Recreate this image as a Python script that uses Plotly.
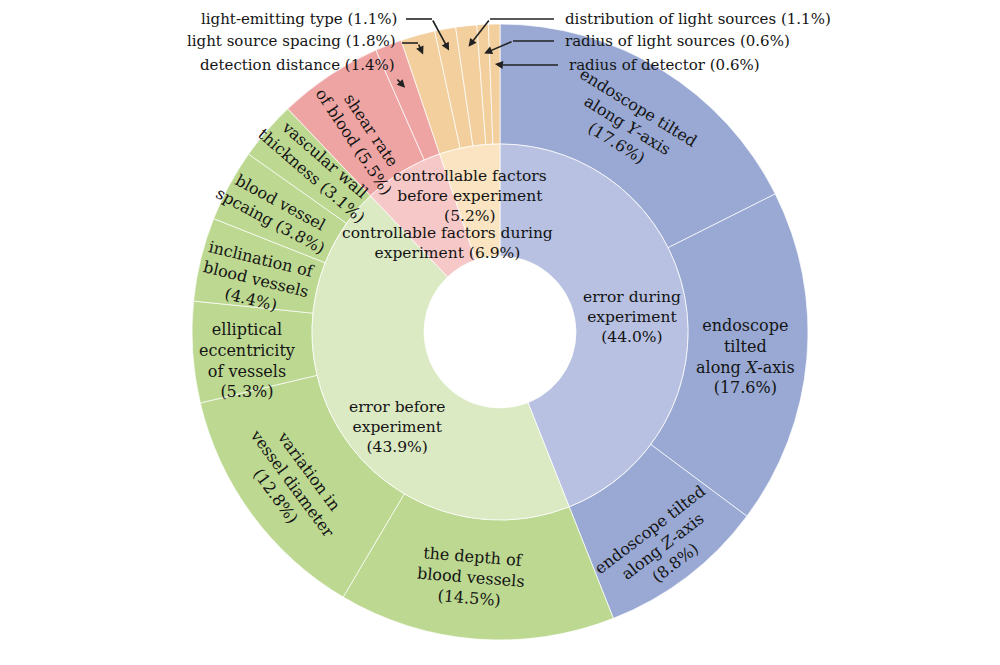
import numpy as np
import plotly.graph_objects as go

# inner ring: main groups
groups = ['error during experiment', 'error before experiment',
          'controllable factors during experiment', 'controllable factors before experiment']
group_values = [44.0, 43.9, 6.9, 5.2]
group_text = ['error during<br>experiment<br>({:.1f}%)',
              'error before<br>experiment<br>({:.1f}%)',
              'controllable factors during<br>experiment ({:.1f}%)',
              'controllable factors<br>before experiment<br>({:.1f}%)']

# outer ring: individual factors (same clockwise order)
factors = ['endoscope tilted along Y-axis', 'endoscope tilted along X-axis', 'endoscope tilted along Z-axis',
           'the depth of blood vessels', 'variation in vessel diameter', 'elliptical eccentricity of vessels',
           'inclination of blood vessels', 'blood vessel spcaing', 'vascular wall thickness',
           'shear rate of blood', 'detection distance', 'light source spacing', 'light-emitting type',
           'distribution of light sources', 'radius of light sources', 'radius of detector']
factor_values = [17.6, 17.6, 8.8, 14.5, 12.8, 5.3, 4.4, 3.8, 3.1, 5.5, 1.4, 1.8, 1.1, 1.1, 0.6, 0.6]
factor_group = [0, 0, 0, 1, 1, 1, 1, 1, 1, 2, 2, 3, 3, 3, 3, 3]
factor_text = ['endoscope tilted<br>along <i>Y</i>-axis<br>({:.1f}%)',
               'endoscope<br>tilted<br>along <i>X</i>-axis<br>({:.1f}%)',
               'endoscope tilted<br>along <i>Z</i>-axis<br>({:.1f}%)',
               'the depth of<br>blood vessels<br>({:.1f}%)',
               'variation in<br>vessel diameter<br>({:.1f}%)',
               'elliptical<br>eccentricity<br>of vessels<br>({:.1f}%)',
               'inclination of<br>blood vessels<br>({:.1f}%)',
               'blood vessel<br>spcaing ({:.1f}%)',
               'vascular wall<br>thickness ({:.1f}%)',
               'shear rate<br>of blood ({:.1f}%)',
               None, None, None, None, None, None]
# how the in-slice text is turned, and small shifts (px)
factor_orient = ['tan', 'hor', 'tan', 'tan', 'tan', 'hor', 'rad', 'rad', 'rad', 'rad',
                 None, None, None, None, None, None]
factor_nudge = [(-3, 5), (-2, 3), (12, 18), (-10, -2), (-8, 4), (-6, 12), (-3, 6), (-6, -2), (6, -2), (0, 10),
                None, None, None, None, None, None]

inner_colors = ['#B8C1E1', '#DCEAC4', '#F6C9C8', '#FBE4C1']
outer_colors = ['#99A9D3', '#BCD891', '#EDA4A3', '#F2CF9D']

W, H = 1000, 665
OFF = 8          # page body margin shifts the figure by this much
cx, cy = 500, 332
R_out, R_mid, R_hole = 308, 188, 76
FONT = 'DejaVu Serif'
FS = 16
TXT = '#141414'


def paper(px, py):
    return (px - OFF) / W, 1 - (py - OFF) / H


def mid_angles(vals):
    v = np.array(vals)
    start = np.cumsum(v) - v
    return (start + v / 2) / v.sum() * 360


def polar(r, theta):
    t = np.radians(theta)
    return cx + r * np.sin(t), cy - r * np.cos(t)


def domain(r):
    x0, y0 = paper(cx - r, cy + r)
    x1, y1 = paper(cx + r, cy - r)
    return dict(x=[x0, x1], y=[y0, y1])


fig = go.Figure()
fig.add_trace(go.Pie(
    values=factor_values, labels=factors, sort=False, direction='clockwise', rotation=0,
    hole=R_mid / R_out, textinfo='none', hoverinfo='label+value', showlegend=False,
    marker=dict(colors=[outer_colors[g] for g in factor_group],
                line=dict(color='rgba(255,255,255,0.7)', width=1)),
    domain=domain(R_out)))
fig.add_trace(go.Pie(
    values=group_values, labels=groups, sort=False, direction='clockwise', rotation=0,
    hole=R_hole / R_mid, textinfo='none', hoverinfo='label+value', showlegend=False,
    marker=dict(colors=inner_colors, line=dict(color='rgba(255,255,255,0.7)', width=1)),
    domain=domain(R_mid)))

annotations = []
shapes = []

# outer ring labels
for txt, v, th, o, nd in zip(factor_text, factor_values, mid_angles(factor_values), factor_orient, factor_nudge):
    if txt is None:
        continue
    px, py = polar((R_out + R_mid) / 2, th)
    if o == 'tan':
        ang = th
    elif o == 'rad':
        ang = th - 90
    else:
        ang = 0
    ang = (ang + 90) % 180 - 90
    x, y = paper(px + nd[0], py + nd[1])
    annotations.append(dict(x=x, y=y, xref='paper', yref='paper', xanchor='center', yanchor='middle',
                            text=txt.format(v), showarrow=False, textangle=ang,
                            font=dict(family=FONT, size=FS, color=TXT)))

# inner ring labels (nudged in px where the slice is narrow)
inner_nudge = [(2, 10), (8, 24), (16, 24), (-9, -6)]
for txt, v, th, (dx, dy) in zip(group_text, group_values, mid_angles(group_values), inner_nudge):
    px, py = polar((R_mid + R_hole) / 2, th)
    x, y = paper(px + dx, py + dy)
    annotations.append(dict(x=x, y=y, xref='paper', yref='paper', xanchor='center', yanchor='middle',
                            text=txt.format(v), showarrow=False,
                            font=dict(family=FONT, size=15.5, color=TXT)))

# small slices: labels outside with elbow arrows
small = list(range(10, 16))
small_label = [(397, 65, 'right'), (398, 41, 'right'), (399, 19, 'right'),
               (563, 19, 'left'), (563, 41, 'left'), (567, 65, 'left')]
small_start = [None, (402, 43), (406, 19), (554, 19), (554, 41), (558, 65)]
small_elbow = [(396, 78), (418, 43), (432, 19), (490, 19), (513, 41), (503, 65)]
arrow_r = [262, 288, 286, 287, 279, 268]
ths = mid_angles(factor_values)
for i, (lx, ly, anc), st, el, r in zip(small, small_label, small_start, small_elbow, arrow_r):
    x, y = paper(lx, ly)
    annotations.append(dict(x=x, y=y, xref='paper', yref='paper', xanchor=anc, yanchor='middle',
                            text='{} ({:.1f}%)'.format(factors[i], factor_values[i]), showarrow=False,
                            font=dict(family=FONT, size=15, color=TXT)))
    if st is not None:
        x0, y0 = paper(*st)
        x1, y1 = paper(*el)
        shapes.append(dict(type='line', xref='paper', yref='paper', x0=x0, y0=y0, x1=x1, y1=y1,
                           line=dict(color='#222222', width=1.6)))
    hx, hy = polar(r, ths[i])
    x, y = paper(hx, hy)
    annotations.append(dict(x=x, y=y, xref='paper', yref='paper', text='', showarrow=True,
                            ax=el[0] - hx, ay=el[1] - hy, arrowhead=2, arrowsize=1,
                            arrowwidth=1.6, arrowcolor='#222222'))

fig.update_layout(width=W, height=H, margin=dict(l=0, r=0, t=0, b=0),
                  paper_bgcolor='white', plot_bgcolor='white',
                  annotations=annotations, shapes=shapes)
fig.write_html('out.html')
